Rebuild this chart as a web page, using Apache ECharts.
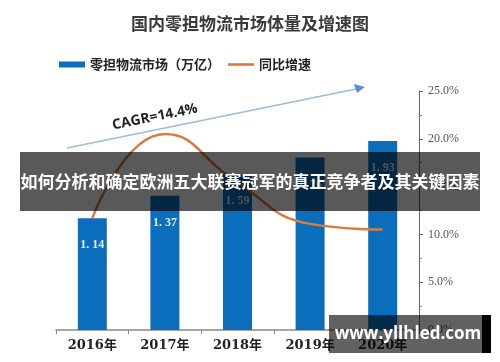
<!DOCTYPE html>
<html>
<head>
<meta charset="utf-8">
<script src="https://cdn.jsdelivr.net/npm/echarts@6/dist/echarts.min.js"></script>
<style>html,body{margin:0;padding:0;background:#fff;}#c{width:500px;height:362px;}</style>
</head>
<body>
<div id="c"></div>
<script>
var categories = ['2016年', '2017年', '2018年', '2019年', '2020年'];
var marketSize = [1.14, 1.37, 1.59, 1.76, 1.93];
var growthRate = [11.7, 20.5, 15.4, 11.1, 10.5];
var rightTicks = [0, 5, 10, 15, 20, 25];

var chart = echarts.init(document.getElementById('c'));
var serif = '"Liberation Serif", "DejaVu Serif", "Noto Sans CJK SC", serif';
var serifWide = '"DejaVu Serif", "Noto Sans CJK SC", serif';
chart.setOption({
  animation: false,
  backgroundColor: '#fff',
  title: {
    text: '国内零担物流市场体量及增速图',
    left: 'center', top: 10,
    textStyle: { fontSize: 17, fontWeight: 'bold', color: '#3a3a3a', fontFamily: '"Noto Sans CJK SC", serif' }
  },
  legend: {
    left: 54, top: 53,
    itemGap: 8, itemWidth: 26, itemHeight: 6,
    textStyle: { fontSize: 13, fontWeight: 'bold', color: '#222', fontFamily: '"Noto Sans CJK SC"' },
    data: [
      { name: '零担物流市场（万亿）', icon: 'rect' },
      { name: '同比增速', icon: 'path://M0 0H40V4H0Z' }
    ]
  },
  grid: { left: 56, right: 81, top: 91, bottom: 32 },
  xAxis: {
    type: 'category', data: categories,
    axisLine: { lineStyle: { color: '#888', width: 1.5 } },
    axisTick: { show: true, length: 4, lineStyle: { color: '#888' } },
    axisLabel: { margin: 9, fontSize: 13, fontWeight: 'bold', color: '#222', fontFamily: serifWide }
  },
  yAxis: [
    { type: 'value', min: 0, max: 2.44, show: false, splitLine: { show: false } },
    {
      type: 'value', position: 'right', min: rightTicks[0], max: rightTicks[rightTicks.length - 1], interval: 5,
      axisLine: { show: true, lineStyle: { color: '#666' } },
      axisTick: { show: true, length: 4, lineStyle: { color: '#666' } },
      minorTick: { show: true, splitNumber: 2, length: 3, lineStyle: { color: '#888' } },
      splitLine: { show: false },
      axisLabel: { formatter: '{value}.0%', fontSize: 12, color: '#555', fontFamily: serif, margin: 9 }
    }
  ],
  series: [
    {
      name: '零担物流市场（万亿）', type: 'bar', data: marketSize, barWidth: 29, yAxisIndex: 0,
      itemStyle: { color: '#0a6ebd' },
      label: {
        show: true, position: 'insideTop', distance: 21,
        formatter: function (p) { return p.value.toFixed(2).replace('.', '. '); },
        fontSize: 12, fontWeight: 'bold', color: '#e6eef7', fontFamily: serif
      },
      z: 2
    },
    {
      name: '同比增速', type: 'line', data: growthRate, yAxisIndex: 1, smooth: 0.5,
      showSymbol: false, symbol: 'none',
      lineStyle: { color: '#d97b3c', width: 2.5 },
      itemStyle: { color: '#d97b3c' },
      z: 3
    }
  ],
  graphic: [
    { type: 'line', shape: { x1: 67, y1: 148, x2: 356, y2: 89 }, style: { stroke: '#9dbcd9', lineWidth: 1.5 }, z: 10 },
    { type: 'polygon', shape: { points: [[365, 87], [354, 84], [357, 93]] }, style: { fill: '#5a8fcc' }, z: 10 },
    { type: 'text', x: 155, y: 117, rotation: 0.2, style: { text: 'CAGR=14.4%', fill: '#222', fontSize: 14, fontWeight: 'bold', fontFamily: '"Open Sans", sans-serif', align: 'center', verticalAlign: 'middle' }, z: 10 },
    { type: 'rect', shape: { x: 20, y: 152, width: 460, height: 59 }, style: { fill: 'rgba(0,0,0,0.65)' }, z: 20 },
    { type: 'text', x: 250, y: 182, style: { text: '如何分析和确定欧洲五大联赛冠军的真正竞争者及其关键因素', fill: '#fff', fontSize: 17, fontWeight: 'bold', fontFamily: '"Noto Sans CJK SC"', align: 'center', verticalAlign: 'middle' }, z: 21 },
    { type: 'rect', shape: { x: 329, y: 315, width: 153, height: 38 }, style: { fill: 'rgba(0,0,0,0.62)' }, z: 20 },
    { type: 'rect', shape: { x: 482, y: 315, width: 9, height: 38 }, style: { fill: '#000' }, z: 20 },
    { type: 'text', x: 408, y: 334, style: { text: 'www.yllhled.com', fill: '#fff', fontSize: 17, fontWeight: 'bold', fontFamily: '"Open Sans", sans-serif', align: 'center', verticalAlign: 'middle' }, z: 21 }
  ]
});
</script>
</body>
</html>
